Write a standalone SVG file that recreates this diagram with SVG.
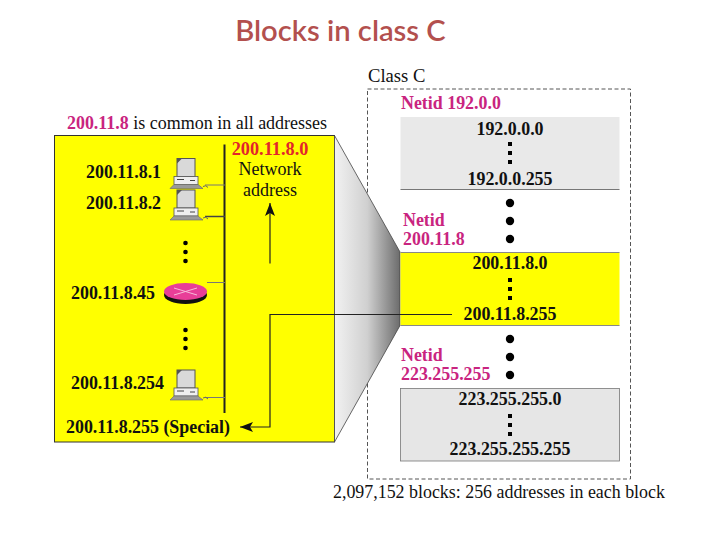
<svg xmlns="http://www.w3.org/2000/svg" width="720" height="540" viewBox="0 0 720 540">
<style>
text{font-family:"Liberation Serif","Times New Roman",serif;fill:#111}
.b{font-weight:bold;font-size:17.900px}
.p{font-weight:bold;font-size:17.900px;fill:#c9247f}
.r{font-size:18px}
.m{text-anchor:middle}
.d{fill:#000}
.l{stroke:#222;fill:none}
</style>
<defs>
<linearGradient id="w" x1="0" x2="1" y1="0" y2="0"><stop offset="0" stop-color="#f2f2f2"/><stop offset="0.5" stop-color="#d0d0d0"/><stop offset="1" stop-color="#6c6c6c"/></linearGradient>
<marker id="a" markerUnits="userSpaceOnUse" markerWidth="14" markerHeight="10" refX="13" refY="5" orient="auto"><path d="M0 0L13 5L0 10L3 5Z" fill="#111"/></marker>
<g id="pc">
<rect x="177" y="0" width="18" height="18" fill="#d9d9d9" stroke="#555" stroke-width="1"/>
<path d="M177 0h5l-5 5z" fill="#555"/>
<rect x="174" y="18" width="24" height="8" fill="#efefef" stroke="#555" stroke-width=".8"/>
<path d="M177 21h7M190 22h5" stroke="#444"/>
<path d="M174 26h24l5 4h-33z" fill="#9a9a9a" stroke="#666" stroke-width=".6"/>
<path d="M203 28q3-2 5 1" fill="none" stroke="#666"/>
</g>
</defs>
<text x="340.500" y="41" text-anchor="middle" style="font-family:'Lato','Open Sans',sans-serif;font-size:29.200px;font-weight:600;fill:#b3504e">Blocks in class C</text>
<g id="class-c">
<text x="368" y="81.500" style="font-size:18.600px">Class C</text>
<rect x="367.500" y="89" width="263" height="390" fill="#fff" stroke="#555" stroke-dasharray="4 2.500"/>
</g>
<g id="network">
<rect x="54.500" y="135.500" width="280" height="306.500" fill="#ffff00" stroke="#333"/>
<text x="67" y="128.500" class="r"><tspan class="p">200.11.8</tspan> is common in all addresses</text>
</g>
<g id="wedge">
<path d="M334.500 135.500L400 252V325.500L334.500 442Z" fill="url(#w)" stroke="#444" stroke-width=".8"/>
</g>
<g id="block-192">
<text x="401" y="108.500" class="p">Netid 192.0.0</text>
<rect x="400.500" y="117" width="219" height="72.500" fill="#e9e9e9"/><path d="M400.500 189.500h219" stroke="#777"/>
<text x="510" y="134.500" class="b m">192.0.0.0</text>
<text x="510" y="184.500" class="b m">192.0.0.255</text>
<path class="d" d="M508 142h4v4h-4zM508 151h4v4h-4zM508 160h4v4h-4z"/>
</g>
<g id="block-200">
<text x="403" y="225.500" class="p">Netid</text><text x="403" y="245" class="p">200.11.8</text>
<rect x="400.500" y="252.500" width="219" height="73" fill="#ffff00"/><path d="M400.500 252.500h219M400.500 325.500h219" stroke="#888"/>
<text x="510" y="269" class="b m">200.11.8.0</text>
<text x="510" y="319.500" class="b m">200.11.8.255</text>
<path class="d" d="M508 278h4v4h-4zM508 287h4v4h-4zM508 296h4v4h-4z"/>
</g>
<g id="block-223">
<text x="401" y="360.500" class="p">Netid</text><text x="401" y="380" class="p">223.255.255</text>
<rect x="400.500" y="388.500" width="219" height="72.500" fill="#e6e6e6" stroke="#777" stroke-width=".8"/>
<text x="510" y="405" class="b m">223.255.255.0</text>
<text x="510" y="455" class="b m">223.255.255.255</text>
<path class="d" d="M508 414h4v4h-4zM508 423h4v4h-4zM508 432h4v4h-4z"/>
</g>
<g id="gaps" class="d">
<circle cx="510" cy="203" r="4.200"/><circle cx="510" cy="221" r="4.200"/><circle cx="510" cy="239" r="4.200"/>
<circle cx="510" cy="339" r="4.200"/><circle cx="510" cy="357" r="4.200"/><circle cx="510" cy="375" r="4.200"/>
<circle cx="185.500" cy="243" r="2.300"/><circle cx="185.500" cy="252" r="2.300"/><circle cx="185.500" cy="261" r="2.300"/>
<circle cx="185.500" cy="330" r="2.300"/><circle cx="185.500" cy="339" r="2.300"/><circle cx="185.500" cy="348" r="2.300"/>
</g>
<g id="connectors">
<path class="l" d="M224.500 144.500V413" stroke-width="2"/>
<path d="M205 185h20M205 397.500h20M207 282.500h18" stroke="#777" fill="none"/>
<path d="M205 216.500h20" stroke="#444" stroke-width="1.500"/>
<path class="l" d="M270 263.500V203" marker-end="url(#a)" stroke-width="1.200"/>
<path class="l" d="M452 314.500H270V427H240" marker-end="url(#a)" stroke-width="1.200"/>
</g>
<g id="host-1"><use href="#pc" transform="translate(0,158.500)"/><text x="86" y="177.500" class="b">200.11.8.1</text></g>
<g id="host-2"><use href="#pc" transform="translate(0,190)"/><text x="86" y="209" class="b">200.11.8.2</text></g>
<g id="router">
<ellipse cx="185.500" cy="295" rx="21.500" ry="9" fill="#111"/>
<ellipse cx="185.500" cy="291.500" rx="21.500" ry="8.500" fill="#e83e98"/>
<path d="M174 288L197 295M197 288L174 295" stroke="#f6bcd9" fill="none"/>
<text x="71" y="299" class="b">200.11.8.45</text>
</g>
<g id="host-254"><use href="#pc" transform="translate(0,370)"/><text x="71" y="389" class="b">200.11.8.254</text></g>
<g id="network-address">
<text x="270" y="155" class="m" style="font-size:18.300px;font-weight:bold;fill:#e2252b">200.11.8.0</text>
<text x="270" y="175" class="m r">Network</text>
<text x="270" y="195.500" class="m r">address</text>
</g>
<text x="66" y="432.500" class="b">200.11.8.255 (Special)</text>
<text x="333" y="497.500" class="r" style="font-size:17.900px">2,097,152 blocks: 256 addresses in each block</text>
</svg>
